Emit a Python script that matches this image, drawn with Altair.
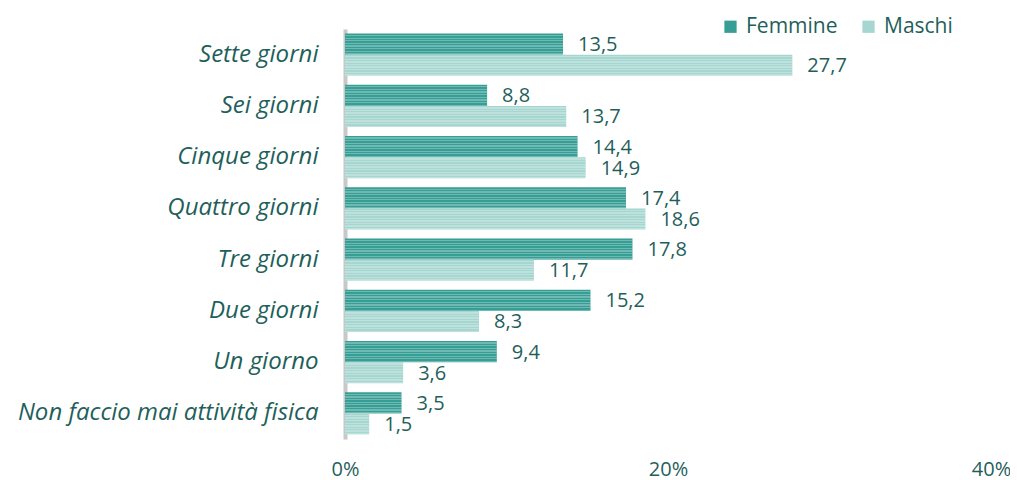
import altair as alt
import pandas as pd

categories = ["Sette giorni", "Sei giorni", "Cinque giorni", "Quattro giorni",
              "Tre giorni", "Due giorni", "Un giorno", "Non faccio mai attività fisica"]
femmine = [13.5, 8.8, 14.4, 17.4, 17.8, 15.2, 9.4, 3.5]
maschi = [27.7, 13.7, 14.9, 18.6, 11.7, 8.3, 3.6, 1.5]
series = ["Femmine", "Maschi"]
x_ticks = [0, 20, 40]

rows = []
for c, f, m in zip(categories, femmine, maschi):
    rows.append({"cat": c, "serie": "Femmine", "v": f, "lab": f"{f:.1f}".replace(".", ",")})
    rows.append({"cat": c, "serie": "Maschi", "v": m, "lab": f"{m:.1f}".replace(".", ",")})
df = pd.DataFrame(rows)

TXT = "#1f5f5b"
FONT = "Open Sans"

y_enc = alt.Y("cat:N", sort=categories,
              scale=alt.Scale(paddingInner=0.18, paddingOuter=0.09),
              axis=alt.Axis(title=None, labelFont=FONT, labelFontStyle="italic",
                            labelFontSize=24, labelColor=TXT, ticks=False,
                            labelPadding=27, domainColor="#c8c8c8", domainWidth=4,
                            labelLimit=400))
x_enc = alt.X("v:Q", scale=alt.Scale(domain=[0, 40]),
              axis=alt.Axis(title=None, values=x_ticks, labelExpr="datum.value + '%'",
                            grid=False, ticks=False, domain=False, labelFont=FONT,
                            labelFontSize=20, labelColor=TXT, labelPadding=20,
                            labelFlush=False))
yoff = alt.YOffset("serie:N", sort=series)

bars = alt.Chart(df).mark_bar(cornerRadius=0).encode(
    y=y_enc, x=x_enc, yOffset=yoff,
    color=alt.Color("serie:N", sort=series,
                    scale=alt.Scale(domain=series, range=["#369e94", "#a6d6d0"]),
                    legend=alt.Legend(title=None, orient="none", direction="horizontal",
                                      legendX=375, legendY=-13, symbolType="square",
                                      symbolSize=150, labelFont=FONT, labelFontSize=21,
                                      labelColor=TXT, columnPadding=20, labelOffset=5,
                                      symbolStrokeWidth=0, symbolOpacity=1))
)

stops = []
n = 8
for i in range(n):
    a = i / n
    b = (i + 0.5) / n
    stops += [alt.GradientStop(offset=a, color="rgba(255,255,255,0)"),
              alt.GradientStop(offset=b, color="rgba(255,255,255,0)"),
              alt.GradientStop(offset=b, color="rgba(255,255,255,0.28)"),
              alt.GradientStop(offset=(i + 1) / n, color="rgba(255,255,255,0.28)")]
stripes = alt.Chart(df).mark_bar(
    fill=alt.Gradient(gradient="linear", stops=stops, x1=0, x2=0, y1=0, y2=1)
).encode(y=y_enc, x=x_enc, yOffset=yoff)

labels = alt.Chart(df).mark_text(align="left", baseline="middle", dx=15, dy=1,
                                 font=FONT, fontSize=20, color=TXT).encode(
    y=y_enc, x=x_enc, yOffset=yoff, text="lab:N")

chart = alt.layer(bars, stripes, labels).properties(
    width=646, height=410,
    background="white",
    autosize=alt.AutoSizeParams(type="none"),
    padding={"left": 337, "top": 21, "right": 19, "bottom": 45},
).configure_view(strokeWidth=0, stroke=None)

chart.save("out.html", embed_options={"renderer": "svg", "actions": False})
